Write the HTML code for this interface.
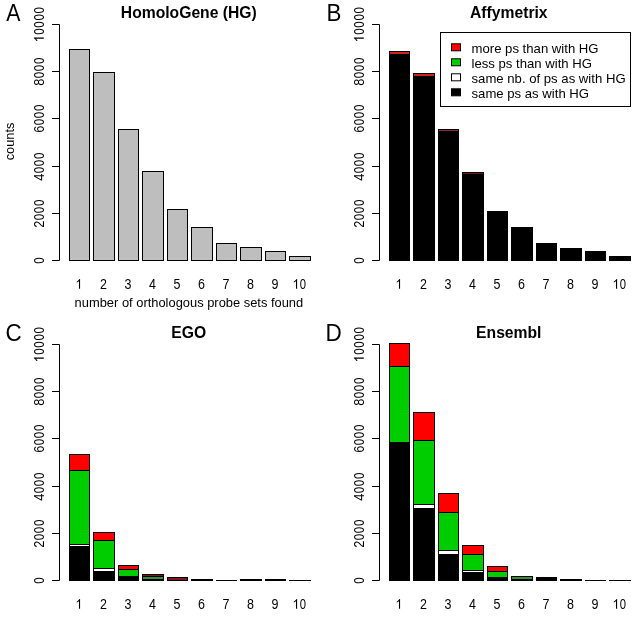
<!DOCTYPE html>
<html><head><meta charset="utf-8"><style>html,body{margin:0;padding:0;background:#fff;}svg{display:block;}</style></head>
<body><svg width="640" height="640" viewBox="0 0 640 640">
<rect x="0" y="0" width="640" height="640" fill="#fff"/>
<line x1="59.5" y1="24.5" x2="59.5" y2="260.5" stroke="#000" stroke-width="1"/>
<line x1="52" y1="24.5" x2="59.5" y2="24.5" stroke="#000" stroke-width="1"/>
<line x1="52" y1="71.5" x2="59.5" y2="71.5" stroke="#000" stroke-width="1"/>
<line x1="52" y1="118.5" x2="59.5" y2="118.5" stroke="#000" stroke-width="1"/>
<line x1="52" y1="166.5" x2="59.5" y2="166.5" stroke="#000" stroke-width="1"/>
<line x1="52" y1="213.5" x2="59.5" y2="213.5" stroke="#000" stroke-width="1"/>
<line x1="52" y1="260.5" x2="59.5" y2="260.5" stroke="#000" stroke-width="1"/>
<rect x="69.5" y="49.5" width="20" height="211" fill="#bebebe" stroke="#000" stroke-width="1"/>
<rect x="93.5" y="72.5" width="21" height="188" fill="#bebebe" stroke="#000" stroke-width="1"/>
<rect x="118.5" y="129.5" width="20" height="131" fill="#bebebe" stroke="#000" stroke-width="1"/>
<rect x="142.5" y="171.5" width="21" height="89" fill="#bebebe" stroke="#000" stroke-width="1"/>
<rect x="167.5" y="209.5" width="20" height="51" fill="#bebebe" stroke="#000" stroke-width="1"/>
<rect x="191.5" y="227.5" width="21" height="33" fill="#bebebe" stroke="#000" stroke-width="1"/>
<rect x="216.5" y="243.5" width="20" height="17" fill="#bebebe" stroke="#000" stroke-width="1"/>
<rect x="240.5" y="247.5" width="21" height="13" fill="#bebebe" stroke="#000" stroke-width="1"/>
<rect x="265.5" y="251.5" width="20" height="9" fill="#bebebe" stroke="#000" stroke-width="1"/>
<rect x="289.5" y="256.5" width="21" height="4" fill="#bebebe" stroke="#000" stroke-width="1"/>
<line x1="379.5" y1="24.5" x2="379.5" y2="260.5" stroke="#000" stroke-width="1"/>
<line x1="372" y1="24.5" x2="379.5" y2="24.5" stroke="#000" stroke-width="1"/>
<line x1="372" y1="71.5" x2="379.5" y2="71.5" stroke="#000" stroke-width="1"/>
<line x1="372" y1="118.5" x2="379.5" y2="118.5" stroke="#000" stroke-width="1"/>
<line x1="372" y1="166.5" x2="379.5" y2="166.5" stroke="#000" stroke-width="1"/>
<line x1="372" y1="213.5" x2="379.5" y2="213.5" stroke="#000" stroke-width="1"/>
<line x1="372" y1="260.5" x2="379.5" y2="260.5" stroke="#000" stroke-width="1"/>
<rect x="389.5" y="54.5" width="20" height="206" fill="#000" stroke="#000" stroke-width="1"/>
<rect x="389.5" y="51.5" width="20" height="3" fill="#d42020" stroke="#000" stroke-width="1"/>
<rect x="413.5" y="76.5" width="21" height="184" fill="#000" stroke="#000" stroke-width="1"/>
<rect x="413.5" y="73.5" width="21" height="3" fill="#d42020" stroke="#000" stroke-width="1"/>
<rect x="438.5" y="131.5" width="20" height="129" fill="#000" stroke="#000" stroke-width="1"/>
<rect x="438.5" y="129.5" width="20" height="2" fill="#902828" stroke="#000" stroke-width="1"/>
<rect x="462.5" y="174.5" width="21" height="86" fill="#000" stroke="#000" stroke-width="1"/>
<rect x="462.5" y="172.5" width="21" height="2" fill="#701818" stroke="#000" stroke-width="1"/>
<rect x="487.5" y="211.5" width="20" height="49" fill="#000" stroke="#000" stroke-width="1"/>
<rect x="511.5" y="227.5" width="21" height="33" fill="#000" stroke="#000" stroke-width="1"/>
<rect x="536.5" y="243.5" width="20" height="17" fill="#000" stroke="#000" stroke-width="1"/>
<rect x="560.5" y="248.5" width="21" height="12" fill="#000" stroke="#000" stroke-width="1"/>
<rect x="585.5" y="251.5" width="20" height="9" fill="#000" stroke="#000" stroke-width="1"/>
<rect x="609.5" y="256.5" width="21" height="4" fill="#000" stroke="#000" stroke-width="1"/>
<line x1="59.5" y1="344.5" x2="59.5" y2="580.5" stroke="#000" stroke-width="1"/>
<line x1="52" y1="344.5" x2="59.5" y2="344.5" stroke="#000" stroke-width="1"/>
<line x1="52" y1="391.5" x2="59.5" y2="391.5" stroke="#000" stroke-width="1"/>
<line x1="52" y1="438.5" x2="59.5" y2="438.5" stroke="#000" stroke-width="1"/>
<line x1="52" y1="486.5" x2="59.5" y2="486.5" stroke="#000" stroke-width="1"/>
<line x1="52" y1="533.5" x2="59.5" y2="533.5" stroke="#000" stroke-width="1"/>
<line x1="52" y1="580.5" x2="59.5" y2="580.5" stroke="#000" stroke-width="1"/>
<rect x="69.5" y="546.5" width="20" height="34" fill="#000" stroke="#000" stroke-width="1"/>
<rect x="69.5" y="544.5" width="20" height="2" fill="#fff" stroke="#000" stroke-width="1"/>
<rect x="69.5" y="470.5" width="20" height="74" fill="#00cd00" stroke="#000" stroke-width="1"/>
<rect x="69.5" y="454.5" width="20" height="16" fill="#ff0000" stroke="#000" stroke-width="1"/>
<rect x="93.5" y="571.5" width="21" height="9" fill="#000" stroke="#000" stroke-width="1"/>
<rect x="93.5" y="568.5" width="21" height="3" fill="#fff" stroke="#000" stroke-width="1"/>
<rect x="93.5" y="540.5" width="21" height="28" fill="#00cd00" stroke="#000" stroke-width="1"/>
<rect x="93.5" y="532.5" width="21" height="8" fill="#ff0000" stroke="#000" stroke-width="1"/>
<rect x="118.5" y="576.5" width="20" height="4" fill="#000" stroke="#000" stroke-width="1"/>
<rect x="118.5" y="569.5" width="20" height="7" fill="#00cd00" stroke="#000" stroke-width="1"/>
<rect x="118.5" y="565.5" width="20" height="4" fill="#ff0000" stroke="#000" stroke-width="1"/>
<rect x="142.5" y="579.5" width="21" height="1" fill="#000" stroke="#000" stroke-width="1"/>
<rect x="142.5" y="576.5" width="21" height="3" fill="#3c8c3c" stroke="#000" stroke-width="1"/>
<rect x="142.5" y="574.5" width="21" height="2" fill="#801818" stroke="#000" stroke-width="1"/>
<rect x="167.5" y="577.5" width="20" height="3" fill="#801818" stroke="#000" stroke-width="1"/>
<rect x="191.5" y="579.5" width="21" height="1" fill="#000" stroke="#000" stroke-width="1"/>
<line x1="216" y1="580.5" x2="237" y2="580.5" stroke="#000" stroke-width="1"/>
<rect x="240.5" y="579.5" width="21" height="1" fill="#000" stroke="#000" stroke-width="1"/>
<rect x="265.5" y="579.5" width="20" height="1" fill="#000" stroke="#000" stroke-width="1"/>
<line x1="289" y1="580.5" x2="311" y2="580.5" stroke="#000" stroke-width="1"/>
<line x1="379.5" y1="344.5" x2="379.5" y2="580.5" stroke="#000" stroke-width="1"/>
<line x1="372" y1="344.5" x2="379.5" y2="344.5" stroke="#000" stroke-width="1"/>
<line x1="372" y1="391.5" x2="379.5" y2="391.5" stroke="#000" stroke-width="1"/>
<line x1="372" y1="438.5" x2="379.5" y2="438.5" stroke="#000" stroke-width="1"/>
<line x1="372" y1="486.5" x2="379.5" y2="486.5" stroke="#000" stroke-width="1"/>
<line x1="372" y1="533.5" x2="379.5" y2="533.5" stroke="#000" stroke-width="1"/>
<line x1="372" y1="580.5" x2="379.5" y2="580.5" stroke="#000" stroke-width="1"/>
<rect x="389.5" y="442.5" width="20" height="138" fill="#000" stroke="#000" stroke-width="1"/>
<rect x="389.5" y="366.5" width="20" height="76" fill="#00cd00" stroke="#000" stroke-width="1"/>
<rect x="389.5" y="343.5" width="20" height="23" fill="#ff0000" stroke="#000" stroke-width="1"/>
<rect x="413.5" y="508.5" width="21" height="72" fill="#000" stroke="#000" stroke-width="1"/>
<rect x="413.5" y="504.5" width="21" height="4" fill="#fff" stroke="#000" stroke-width="1"/>
<rect x="413.5" y="440.5" width="21" height="64" fill="#00cd00" stroke="#000" stroke-width="1"/>
<rect x="413.5" y="412.5" width="21" height="28" fill="#ff0000" stroke="#000" stroke-width="1"/>
<rect x="438.5" y="554.5" width="20" height="26" fill="#000" stroke="#000" stroke-width="1"/>
<rect x="438.5" y="550.5" width="20" height="4" fill="#fff" stroke="#000" stroke-width="1"/>
<rect x="438.5" y="512.5" width="20" height="38" fill="#00cd00" stroke="#000" stroke-width="1"/>
<rect x="438.5" y="493.5" width="20" height="19" fill="#ff0000" stroke="#000" stroke-width="1"/>
<rect x="462.5" y="572.5" width="21" height="8" fill="#000" stroke="#000" stroke-width="1"/>
<rect x="462.5" y="570.5" width="21" height="2" fill="#fff" stroke="#000" stroke-width="1"/>
<rect x="462.5" y="554.5" width="21" height="16" fill="#00cd00" stroke="#000" stroke-width="1"/>
<rect x="462.5" y="545.5" width="21" height="9" fill="#ff0000" stroke="#000" stroke-width="1"/>
<rect x="487.5" y="577.5" width="20" height="3" fill="#000" stroke="#000" stroke-width="1"/>
<rect x="487.5" y="571.5" width="20" height="6" fill="#00cd00" stroke="#000" stroke-width="1"/>
<rect x="487.5" y="566.5" width="20" height="5" fill="#ff0000" stroke="#000" stroke-width="1"/>
<rect x="511.5" y="579.5" width="21" height="1" fill="#000" stroke="#000" stroke-width="1"/>
<rect x="511.5" y="576.5" width="21" height="3" fill="#3c8c3c" stroke="#000" stroke-width="1"/>
<rect x="536.5" y="577.5" width="20" height="3" fill="#000" stroke="#000" stroke-width="1"/>
<rect x="560.5" y="579.5" width="21" height="1" fill="#000" stroke="#000" stroke-width="1"/>
<line x1="585" y1="580.5" x2="606" y2="580.5" stroke="#000" stroke-width="1"/>
<line x1="609" y1="580.5" x2="631" y2="580.5" stroke="#000" stroke-width="1"/>
<rect x="440.5" y="32.5" width="190" height="74" fill="#fff" stroke="#000" stroke-width="1"/>
<rect x="451.5" y="43.8" width="9" height="7" fill="#ff0000" stroke="#000" stroke-width="1"/>
<rect x="451.5" y="58.8" width="9" height="7" fill="#00cd00" stroke="#000" stroke-width="1"/>
<rect x="451.5" y="73.8" width="9" height="7" fill="#fff" stroke="#000" stroke-width="1"/>
<rect x="451.5" y="88.8" width="9" height="7" fill="#000" stroke="#000" stroke-width="1"/>
<defs><filter id="gs" x="0" y="0" width="640" height="640" filterUnits="userSpaceOnUse"><feColorMatrix type="saturate" values="0"/></filter></defs>
<g filter="url(#gs)">
<g transform="translate(43.8,24.5) rotate(-90) scale(1,1.08)"><path d="M763 0L583 0L583 1147Q518 1085 412.5 1023Q307 961 223 930L223 1104Q374 1175 487 1276Q600 1377 647 1472L763 1472Z" transform="translate(-17.79,0) scale(0.00625,-0.00625)" fill="#000"/><text transform="translate(-7.12,0) scale(0.9,1)" x="0" y="0" text-anchor="middle" font-size="12.8" font-family="Liberation Sans, sans-serif" fill="#000">0</text><text transform="translate(0,0) scale(0.9,1)" x="0" y="0" text-anchor="middle" font-size="12.8" font-family="Liberation Sans, sans-serif" fill="#000">0</text><text transform="translate(7.12,0) scale(0.9,1)" x="0" y="0" text-anchor="middle" font-size="12.8" font-family="Liberation Sans, sans-serif" fill="#000">0</text><text transform="translate(14.23,0) scale(0.9,1)" x="0" y="0" text-anchor="middle" font-size="12.8" font-family="Liberation Sans, sans-serif" fill="#000">0</text></g>
<g transform="translate(43.8,71.5) rotate(-90) scale(1,1.08)"><text x="-14.23" y="0" font-size="12.8" font-family="Liberation Sans, sans-serif" fill="#000">8</text><text transform="translate(-3.56,0) scale(0.9,1)" x="0" y="0" text-anchor="middle" font-size="12.8" font-family="Liberation Sans, sans-serif" fill="#000">0</text><text transform="translate(3.56,0) scale(0.9,1)" x="0" y="0" text-anchor="middle" font-size="12.8" font-family="Liberation Sans, sans-serif" fill="#000">0</text><text transform="translate(10.68,0) scale(0.9,1)" x="0" y="0" text-anchor="middle" font-size="12.8" font-family="Liberation Sans, sans-serif" fill="#000">0</text></g>
<g transform="translate(43.8,118.5) rotate(-90) scale(1,1.08)"><text x="-14.23" y="0" font-size="12.8" font-family="Liberation Sans, sans-serif" fill="#000">6</text><text transform="translate(-3.56,0) scale(0.9,1)" x="0" y="0" text-anchor="middle" font-size="12.8" font-family="Liberation Sans, sans-serif" fill="#000">0</text><text transform="translate(3.56,0) scale(0.9,1)" x="0" y="0" text-anchor="middle" font-size="12.8" font-family="Liberation Sans, sans-serif" fill="#000">0</text><text transform="translate(10.68,0) scale(0.9,1)" x="0" y="0" text-anchor="middle" font-size="12.8" font-family="Liberation Sans, sans-serif" fill="#000">0</text></g>
<g transform="translate(43.8,166.5) rotate(-90) scale(1,1.08)"><text x="-14.23" y="0" font-size="12.8" font-family="Liberation Sans, sans-serif" fill="#000">4</text><text transform="translate(-3.56,0) scale(0.9,1)" x="0" y="0" text-anchor="middle" font-size="12.8" font-family="Liberation Sans, sans-serif" fill="#000">0</text><text transform="translate(3.56,0) scale(0.9,1)" x="0" y="0" text-anchor="middle" font-size="12.8" font-family="Liberation Sans, sans-serif" fill="#000">0</text><text transform="translate(10.68,0) scale(0.9,1)" x="0" y="0" text-anchor="middle" font-size="12.8" font-family="Liberation Sans, sans-serif" fill="#000">0</text></g>
<g transform="translate(43.8,213.5) rotate(-90) scale(1,1.08)"><text x="-14.23" y="0" font-size="12.8" font-family="Liberation Sans, sans-serif" fill="#000">2</text><text transform="translate(-3.56,0) scale(0.9,1)" x="0" y="0" text-anchor="middle" font-size="12.8" font-family="Liberation Sans, sans-serif" fill="#000">0</text><text transform="translate(3.56,0) scale(0.9,1)" x="0" y="0" text-anchor="middle" font-size="12.8" font-family="Liberation Sans, sans-serif" fill="#000">0</text><text transform="translate(10.68,0) scale(0.9,1)" x="0" y="0" text-anchor="middle" font-size="12.8" font-family="Liberation Sans, sans-serif" fill="#000">0</text></g>
<g transform="translate(43.8,260.5) rotate(-90) scale(1,1.08)"><text transform="translate(0,0) scale(0.9,1)" x="0" y="0" text-anchor="middle" font-size="12.8" font-family="Liberation Sans, sans-serif" fill="#000">0</text></g>
<g transform="translate(78.9,288.8) scale(1,1.1)"><path d="M763 0L583 0L583 1147Q518 1085 412.5 1023Q307 961 223 930L223 1104Q374 1175 487 1276Q600 1377 647 1472L763 1472Z" transform="translate(-3.48,0) scale(0.00610,-0.00610)" fill="#000"/></g>
<g transform="translate(103.4,288.8) scale(1,1.1)"><text x="-3.48" y="0" font-size="12.5" font-family="Liberation Sans, sans-serif" fill="#000">2</text></g>
<g transform="translate(127.9,288.8) scale(1,1.1)"><text x="-3.48" y="0" font-size="12.5" font-family="Liberation Sans, sans-serif" fill="#000">3</text></g>
<g transform="translate(152.4,288.8) scale(1,1.1)"><text x="-3.48" y="0" font-size="12.5" font-family="Liberation Sans, sans-serif" fill="#000">4</text></g>
<g transform="translate(176.9,288.8) scale(1,1.1)"><text x="-3.48" y="0" font-size="12.5" font-family="Liberation Sans, sans-serif" fill="#000">5</text></g>
<g transform="translate(201.4,288.8) scale(1,1.1)"><text x="-3.48" y="0" font-size="12.5" font-family="Liberation Sans, sans-serif" fill="#000">6</text></g>
<g transform="translate(225.9,288.8) scale(1,1.1)"><text x="-3.48" y="0" font-size="12.5" font-family="Liberation Sans, sans-serif" fill="#000">7</text></g>
<g transform="translate(250.4,288.8) scale(1,1.1)"><text x="-3.48" y="0" font-size="12.5" font-family="Liberation Sans, sans-serif" fill="#000">8</text></g>
<g transform="translate(274.9,288.8) scale(1,1.1)"><text x="-3.48" y="0" font-size="12.5" font-family="Liberation Sans, sans-serif" fill="#000">9</text></g>
<g transform="translate(299.4,288.8) scale(1,1.1)"><path d="M763 0L583 0L583 1147Q518 1085 412.5 1023Q307 961 223 930L223 1104Q374 1175 487 1276Q600 1377 647 1472L763 1472Z" transform="translate(-6.95,0) scale(0.00610,-0.00610)" fill="#000"/><text transform="translate(3.48,0) scale(0.9,1)" x="0" y="0" text-anchor="middle" font-size="12.5" font-family="Liberation Sans, sans-serif" fill="#000">0</text></g>
<text transform="translate(6.17,21) scale(0.925,1)" x="0" y="0" font-size="23" font-family="Liberation Sans, sans-serif" fill="#000">A</text>
<text x="188.8" y="18" text-anchor="middle" font-size="15.7" font-weight="bold" font-family="Liberation Sans, sans-serif" fill="#000">HomoloGene (HG)</text>
<text x="14" y="141.5" transform="rotate(-90 14 141.5)" text-anchor="middle" font-size="12.8" font-family="Liberation Sans, sans-serif" fill="#000">counts</text>
<text x="188.9" y="306.6" text-anchor="middle" font-size="12.9" font-family="Liberation Sans, sans-serif" fill="#000">number of orthologous probe sets found</text>
<g transform="translate(363.8,24.5) rotate(-90) scale(1,1.08)"><path d="M763 0L583 0L583 1147Q518 1085 412.5 1023Q307 961 223 930L223 1104Q374 1175 487 1276Q600 1377 647 1472L763 1472Z" transform="translate(-17.79,0) scale(0.00625,-0.00625)" fill="#000"/><text transform="translate(-7.12,0) scale(0.9,1)" x="0" y="0" text-anchor="middle" font-size="12.8" font-family="Liberation Sans, sans-serif" fill="#000">0</text><text transform="translate(0,0) scale(0.9,1)" x="0" y="0" text-anchor="middle" font-size="12.8" font-family="Liberation Sans, sans-serif" fill="#000">0</text><text transform="translate(7.12,0) scale(0.9,1)" x="0" y="0" text-anchor="middle" font-size="12.8" font-family="Liberation Sans, sans-serif" fill="#000">0</text><text transform="translate(14.23,0) scale(0.9,1)" x="0" y="0" text-anchor="middle" font-size="12.8" font-family="Liberation Sans, sans-serif" fill="#000">0</text></g>
<g transform="translate(363.8,71.5) rotate(-90) scale(1,1.08)"><text x="-14.23" y="0" font-size="12.8" font-family="Liberation Sans, sans-serif" fill="#000">8</text><text transform="translate(-3.56,0) scale(0.9,1)" x="0" y="0" text-anchor="middle" font-size="12.8" font-family="Liberation Sans, sans-serif" fill="#000">0</text><text transform="translate(3.56,0) scale(0.9,1)" x="0" y="0" text-anchor="middle" font-size="12.8" font-family="Liberation Sans, sans-serif" fill="#000">0</text><text transform="translate(10.68,0) scale(0.9,1)" x="0" y="0" text-anchor="middle" font-size="12.8" font-family="Liberation Sans, sans-serif" fill="#000">0</text></g>
<g transform="translate(363.8,118.5) rotate(-90) scale(1,1.08)"><text x="-14.23" y="0" font-size="12.8" font-family="Liberation Sans, sans-serif" fill="#000">6</text><text transform="translate(-3.56,0) scale(0.9,1)" x="0" y="0" text-anchor="middle" font-size="12.8" font-family="Liberation Sans, sans-serif" fill="#000">0</text><text transform="translate(3.56,0) scale(0.9,1)" x="0" y="0" text-anchor="middle" font-size="12.8" font-family="Liberation Sans, sans-serif" fill="#000">0</text><text transform="translate(10.68,0) scale(0.9,1)" x="0" y="0" text-anchor="middle" font-size="12.8" font-family="Liberation Sans, sans-serif" fill="#000">0</text></g>
<g transform="translate(363.8,166.5) rotate(-90) scale(1,1.08)"><text x="-14.23" y="0" font-size="12.8" font-family="Liberation Sans, sans-serif" fill="#000">4</text><text transform="translate(-3.56,0) scale(0.9,1)" x="0" y="0" text-anchor="middle" font-size="12.8" font-family="Liberation Sans, sans-serif" fill="#000">0</text><text transform="translate(3.56,0) scale(0.9,1)" x="0" y="0" text-anchor="middle" font-size="12.8" font-family="Liberation Sans, sans-serif" fill="#000">0</text><text transform="translate(10.68,0) scale(0.9,1)" x="0" y="0" text-anchor="middle" font-size="12.8" font-family="Liberation Sans, sans-serif" fill="#000">0</text></g>
<g transform="translate(363.8,213.5) rotate(-90) scale(1,1.08)"><text x="-14.23" y="0" font-size="12.8" font-family="Liberation Sans, sans-serif" fill="#000">2</text><text transform="translate(-3.56,0) scale(0.9,1)" x="0" y="0" text-anchor="middle" font-size="12.8" font-family="Liberation Sans, sans-serif" fill="#000">0</text><text transform="translate(3.56,0) scale(0.9,1)" x="0" y="0" text-anchor="middle" font-size="12.8" font-family="Liberation Sans, sans-serif" fill="#000">0</text><text transform="translate(10.68,0) scale(0.9,1)" x="0" y="0" text-anchor="middle" font-size="12.8" font-family="Liberation Sans, sans-serif" fill="#000">0</text></g>
<g transform="translate(363.8,260.5) rotate(-90) scale(1,1.08)"><text transform="translate(0,0) scale(0.9,1)" x="0" y="0" text-anchor="middle" font-size="12.8" font-family="Liberation Sans, sans-serif" fill="#000">0</text></g>
<g transform="translate(398.9,288.8) scale(1,1.1)"><path d="M763 0L583 0L583 1147Q518 1085 412.5 1023Q307 961 223 930L223 1104Q374 1175 487 1276Q600 1377 647 1472L763 1472Z" transform="translate(-3.48,0) scale(0.00610,-0.00610)" fill="#000"/></g>
<g transform="translate(423.4,288.8) scale(1,1.1)"><text x="-3.48" y="0" font-size="12.5" font-family="Liberation Sans, sans-serif" fill="#000">2</text></g>
<g transform="translate(447.9,288.8) scale(1,1.1)"><text x="-3.48" y="0" font-size="12.5" font-family="Liberation Sans, sans-serif" fill="#000">3</text></g>
<g transform="translate(472.4,288.8) scale(1,1.1)"><text x="-3.48" y="0" font-size="12.5" font-family="Liberation Sans, sans-serif" fill="#000">4</text></g>
<g transform="translate(496.9,288.8) scale(1,1.1)"><text x="-3.48" y="0" font-size="12.5" font-family="Liberation Sans, sans-serif" fill="#000">5</text></g>
<g transform="translate(521.4,288.8) scale(1,1.1)"><text x="-3.48" y="0" font-size="12.5" font-family="Liberation Sans, sans-serif" fill="#000">6</text></g>
<g transform="translate(545.9,288.8) scale(1,1.1)"><text x="-3.48" y="0" font-size="12.5" font-family="Liberation Sans, sans-serif" fill="#000">7</text></g>
<g transform="translate(570.4,288.8) scale(1,1.1)"><text x="-3.48" y="0" font-size="12.5" font-family="Liberation Sans, sans-serif" fill="#000">8</text></g>
<g transform="translate(594.9,288.8) scale(1,1.1)"><text x="-3.48" y="0" font-size="12.5" font-family="Liberation Sans, sans-serif" fill="#000">9</text></g>
<g transform="translate(619.4,288.8) scale(1,1.1)"><path d="M763 0L583 0L583 1147Q518 1085 412.5 1023Q307 961 223 930L223 1104Q374 1175 487 1276Q600 1377 647 1472L763 1472Z" transform="translate(-6.95,0) scale(0.00610,-0.00610)" fill="#000"/><text transform="translate(3.48,0) scale(0.9,1)" x="0" y="0" text-anchor="middle" font-size="12.5" font-family="Liberation Sans, sans-serif" fill="#000">0</text></g>
<text transform="translate(326.6,21) scale(0.972,1)" x="0" y="0" font-size="23" font-family="Liberation Sans, sans-serif" fill="#000">B</text>
<text x="508.8" y="18" text-anchor="middle" font-size="15.7" font-weight="bold" font-family="Liberation Sans, sans-serif" fill="#000">Affymetrix</text>
<g transform="translate(43.8,344.5) rotate(-90) scale(1,1.08)"><path d="M763 0L583 0L583 1147Q518 1085 412.5 1023Q307 961 223 930L223 1104Q374 1175 487 1276Q600 1377 647 1472L763 1472Z" transform="translate(-17.79,0) scale(0.00625,-0.00625)" fill="#000"/><text transform="translate(-7.12,0) scale(0.9,1)" x="0" y="0" text-anchor="middle" font-size="12.8" font-family="Liberation Sans, sans-serif" fill="#000">0</text><text transform="translate(0,0) scale(0.9,1)" x="0" y="0" text-anchor="middle" font-size="12.8" font-family="Liberation Sans, sans-serif" fill="#000">0</text><text transform="translate(7.12,0) scale(0.9,1)" x="0" y="0" text-anchor="middle" font-size="12.8" font-family="Liberation Sans, sans-serif" fill="#000">0</text><text transform="translate(14.23,0) scale(0.9,1)" x="0" y="0" text-anchor="middle" font-size="12.8" font-family="Liberation Sans, sans-serif" fill="#000">0</text></g>
<g transform="translate(43.8,391.5) rotate(-90) scale(1,1.08)"><text x="-14.23" y="0" font-size="12.8" font-family="Liberation Sans, sans-serif" fill="#000">8</text><text transform="translate(-3.56,0) scale(0.9,1)" x="0" y="0" text-anchor="middle" font-size="12.8" font-family="Liberation Sans, sans-serif" fill="#000">0</text><text transform="translate(3.56,0) scale(0.9,1)" x="0" y="0" text-anchor="middle" font-size="12.8" font-family="Liberation Sans, sans-serif" fill="#000">0</text><text transform="translate(10.68,0) scale(0.9,1)" x="0" y="0" text-anchor="middle" font-size="12.8" font-family="Liberation Sans, sans-serif" fill="#000">0</text></g>
<g transform="translate(43.8,438.5) rotate(-90) scale(1,1.08)"><text x="-14.23" y="0" font-size="12.8" font-family="Liberation Sans, sans-serif" fill="#000">6</text><text transform="translate(-3.56,0) scale(0.9,1)" x="0" y="0" text-anchor="middle" font-size="12.8" font-family="Liberation Sans, sans-serif" fill="#000">0</text><text transform="translate(3.56,0) scale(0.9,1)" x="0" y="0" text-anchor="middle" font-size="12.8" font-family="Liberation Sans, sans-serif" fill="#000">0</text><text transform="translate(10.68,0) scale(0.9,1)" x="0" y="0" text-anchor="middle" font-size="12.8" font-family="Liberation Sans, sans-serif" fill="#000">0</text></g>
<g transform="translate(43.8,486.5) rotate(-90) scale(1,1.08)"><text x="-14.23" y="0" font-size="12.8" font-family="Liberation Sans, sans-serif" fill="#000">4</text><text transform="translate(-3.56,0) scale(0.9,1)" x="0" y="0" text-anchor="middle" font-size="12.8" font-family="Liberation Sans, sans-serif" fill="#000">0</text><text transform="translate(3.56,0) scale(0.9,1)" x="0" y="0" text-anchor="middle" font-size="12.8" font-family="Liberation Sans, sans-serif" fill="#000">0</text><text transform="translate(10.68,0) scale(0.9,1)" x="0" y="0" text-anchor="middle" font-size="12.8" font-family="Liberation Sans, sans-serif" fill="#000">0</text></g>
<g transform="translate(43.8,533.5) rotate(-90) scale(1,1.08)"><text x="-14.23" y="0" font-size="12.8" font-family="Liberation Sans, sans-serif" fill="#000">2</text><text transform="translate(-3.56,0) scale(0.9,1)" x="0" y="0" text-anchor="middle" font-size="12.8" font-family="Liberation Sans, sans-serif" fill="#000">0</text><text transform="translate(3.56,0) scale(0.9,1)" x="0" y="0" text-anchor="middle" font-size="12.8" font-family="Liberation Sans, sans-serif" fill="#000">0</text><text transform="translate(10.68,0) scale(0.9,1)" x="0" y="0" text-anchor="middle" font-size="12.8" font-family="Liberation Sans, sans-serif" fill="#000">0</text></g>
<g transform="translate(43.8,580.5) rotate(-90) scale(1,1.08)"><text transform="translate(0,0) scale(0.9,1)" x="0" y="0" text-anchor="middle" font-size="12.8" font-family="Liberation Sans, sans-serif" fill="#000">0</text></g>
<g transform="translate(78.9,608.8) scale(1,1.1)"><path d="M763 0L583 0L583 1147Q518 1085 412.5 1023Q307 961 223 930L223 1104Q374 1175 487 1276Q600 1377 647 1472L763 1472Z" transform="translate(-3.48,0) scale(0.00610,-0.00610)" fill="#000"/></g>
<g transform="translate(103.4,608.8) scale(1,1.1)"><text x="-3.48" y="0" font-size="12.5" font-family="Liberation Sans, sans-serif" fill="#000">2</text></g>
<g transform="translate(127.9,608.8) scale(1,1.1)"><text x="-3.48" y="0" font-size="12.5" font-family="Liberation Sans, sans-serif" fill="#000">3</text></g>
<g transform="translate(152.4,608.8) scale(1,1.1)"><text x="-3.48" y="0" font-size="12.5" font-family="Liberation Sans, sans-serif" fill="#000">4</text></g>
<g transform="translate(176.9,608.8) scale(1,1.1)"><text x="-3.48" y="0" font-size="12.5" font-family="Liberation Sans, sans-serif" fill="#000">5</text></g>
<g transform="translate(201.4,608.8) scale(1,1.1)"><text x="-3.48" y="0" font-size="12.5" font-family="Liberation Sans, sans-serif" fill="#000">6</text></g>
<g transform="translate(225.9,608.8) scale(1,1.1)"><text x="-3.48" y="0" font-size="12.5" font-family="Liberation Sans, sans-serif" fill="#000">7</text></g>
<g transform="translate(250.4,608.8) scale(1,1.1)"><text x="-3.48" y="0" font-size="12.5" font-family="Liberation Sans, sans-serif" fill="#000">8</text></g>
<g transform="translate(274.9,608.8) scale(1,1.1)"><text x="-3.48" y="0" font-size="12.5" font-family="Liberation Sans, sans-serif" fill="#000">9</text></g>
<g transform="translate(299.4,608.8) scale(1,1.1)"><path d="M763 0L583 0L583 1147Q518 1085 412.5 1023Q307 961 223 930L223 1104Q374 1175 487 1276Q600 1377 647 1472L763 1472Z" transform="translate(-6.95,0) scale(0.00610,-0.00610)" fill="#000"/><text transform="translate(3.48,0) scale(0.9,1)" x="0" y="0" text-anchor="middle" font-size="12.5" font-family="Liberation Sans, sans-serif" fill="#000">0</text></g>
<text transform="translate(5.5,341) scale(0.974,1)" x="0" y="0" font-size="23" font-family="Liberation Sans, sans-serif" fill="#000">C</text>
<text x="188.8" y="338" text-anchor="middle" font-size="15.7" font-weight="bold" font-family="Liberation Sans, sans-serif" fill="#000">EGO</text>
<g transform="translate(363.8,344.5) rotate(-90) scale(1,1.08)"><path d="M763 0L583 0L583 1147Q518 1085 412.5 1023Q307 961 223 930L223 1104Q374 1175 487 1276Q600 1377 647 1472L763 1472Z" transform="translate(-17.79,0) scale(0.00625,-0.00625)" fill="#000"/><text transform="translate(-7.12,0) scale(0.9,1)" x="0" y="0" text-anchor="middle" font-size="12.8" font-family="Liberation Sans, sans-serif" fill="#000">0</text><text transform="translate(0,0) scale(0.9,1)" x="0" y="0" text-anchor="middle" font-size="12.8" font-family="Liberation Sans, sans-serif" fill="#000">0</text><text transform="translate(7.12,0) scale(0.9,1)" x="0" y="0" text-anchor="middle" font-size="12.8" font-family="Liberation Sans, sans-serif" fill="#000">0</text><text transform="translate(14.23,0) scale(0.9,1)" x="0" y="0" text-anchor="middle" font-size="12.8" font-family="Liberation Sans, sans-serif" fill="#000">0</text></g>
<g transform="translate(363.8,391.5) rotate(-90) scale(1,1.08)"><text x="-14.23" y="0" font-size="12.8" font-family="Liberation Sans, sans-serif" fill="#000">8</text><text transform="translate(-3.56,0) scale(0.9,1)" x="0" y="0" text-anchor="middle" font-size="12.8" font-family="Liberation Sans, sans-serif" fill="#000">0</text><text transform="translate(3.56,0) scale(0.9,1)" x="0" y="0" text-anchor="middle" font-size="12.8" font-family="Liberation Sans, sans-serif" fill="#000">0</text><text transform="translate(10.68,0) scale(0.9,1)" x="0" y="0" text-anchor="middle" font-size="12.8" font-family="Liberation Sans, sans-serif" fill="#000">0</text></g>
<g transform="translate(363.8,438.5) rotate(-90) scale(1,1.08)"><text x="-14.23" y="0" font-size="12.8" font-family="Liberation Sans, sans-serif" fill="#000">6</text><text transform="translate(-3.56,0) scale(0.9,1)" x="0" y="0" text-anchor="middle" font-size="12.8" font-family="Liberation Sans, sans-serif" fill="#000">0</text><text transform="translate(3.56,0) scale(0.9,1)" x="0" y="0" text-anchor="middle" font-size="12.8" font-family="Liberation Sans, sans-serif" fill="#000">0</text><text transform="translate(10.68,0) scale(0.9,1)" x="0" y="0" text-anchor="middle" font-size="12.8" font-family="Liberation Sans, sans-serif" fill="#000">0</text></g>
<g transform="translate(363.8,486.5) rotate(-90) scale(1,1.08)"><text x="-14.23" y="0" font-size="12.8" font-family="Liberation Sans, sans-serif" fill="#000">4</text><text transform="translate(-3.56,0) scale(0.9,1)" x="0" y="0" text-anchor="middle" font-size="12.8" font-family="Liberation Sans, sans-serif" fill="#000">0</text><text transform="translate(3.56,0) scale(0.9,1)" x="0" y="0" text-anchor="middle" font-size="12.8" font-family="Liberation Sans, sans-serif" fill="#000">0</text><text transform="translate(10.68,0) scale(0.9,1)" x="0" y="0" text-anchor="middle" font-size="12.8" font-family="Liberation Sans, sans-serif" fill="#000">0</text></g>
<g transform="translate(363.8,533.5) rotate(-90) scale(1,1.08)"><text x="-14.23" y="0" font-size="12.8" font-family="Liberation Sans, sans-serif" fill="#000">2</text><text transform="translate(-3.56,0) scale(0.9,1)" x="0" y="0" text-anchor="middle" font-size="12.8" font-family="Liberation Sans, sans-serif" fill="#000">0</text><text transform="translate(3.56,0) scale(0.9,1)" x="0" y="0" text-anchor="middle" font-size="12.8" font-family="Liberation Sans, sans-serif" fill="#000">0</text><text transform="translate(10.68,0) scale(0.9,1)" x="0" y="0" text-anchor="middle" font-size="12.8" font-family="Liberation Sans, sans-serif" fill="#000">0</text></g>
<g transform="translate(363.8,580.5) rotate(-90) scale(1,1.08)"><text transform="translate(0,0) scale(0.9,1)" x="0" y="0" text-anchor="middle" font-size="12.8" font-family="Liberation Sans, sans-serif" fill="#000">0</text></g>
<g transform="translate(398.9,608.8) scale(1,1.1)"><path d="M763 0L583 0L583 1147Q518 1085 412.5 1023Q307 961 223 930L223 1104Q374 1175 487 1276Q600 1377 647 1472L763 1472Z" transform="translate(-3.48,0) scale(0.00610,-0.00610)" fill="#000"/></g>
<g transform="translate(423.4,608.8) scale(1,1.1)"><text x="-3.48" y="0" font-size="12.5" font-family="Liberation Sans, sans-serif" fill="#000">2</text></g>
<g transform="translate(447.9,608.8) scale(1,1.1)"><text x="-3.48" y="0" font-size="12.5" font-family="Liberation Sans, sans-serif" fill="#000">3</text></g>
<g transform="translate(472.4,608.8) scale(1,1.1)"><text x="-3.48" y="0" font-size="12.5" font-family="Liberation Sans, sans-serif" fill="#000">4</text></g>
<g transform="translate(496.9,608.8) scale(1,1.1)"><text x="-3.48" y="0" font-size="12.5" font-family="Liberation Sans, sans-serif" fill="#000">5</text></g>
<g transform="translate(521.4,608.8) scale(1,1.1)"><text x="-3.48" y="0" font-size="12.5" font-family="Liberation Sans, sans-serif" fill="#000">6</text></g>
<g transform="translate(545.9,608.8) scale(1,1.1)"><text x="-3.48" y="0" font-size="12.5" font-family="Liberation Sans, sans-serif" fill="#000">7</text></g>
<g transform="translate(570.4,608.8) scale(1,1.1)"><text x="-3.48" y="0" font-size="12.5" font-family="Liberation Sans, sans-serif" fill="#000">8</text></g>
<g transform="translate(594.9,608.8) scale(1,1.1)"><text x="-3.48" y="0" font-size="12.5" font-family="Liberation Sans, sans-serif" fill="#000">9</text></g>
<g transform="translate(619.4,608.8) scale(1,1.1)"><path d="M763 0L583 0L583 1147Q518 1085 412.5 1023Q307 961 223 930L223 1104Q374 1175 487 1276Q600 1377 647 1472L763 1472Z" transform="translate(-6.95,0) scale(0.00610,-0.00610)" fill="#000"/><text transform="translate(3.48,0) scale(0.9,1)" x="0" y="0" text-anchor="middle" font-size="12.5" font-family="Liberation Sans, sans-serif" fill="#000">0</text></g>
<text transform="translate(325.6,341) scale(0.979,1)" x="0" y="0" font-size="23" font-family="Liberation Sans, sans-serif" fill="#000">D</text>
<text x="508.8" y="338" text-anchor="middle" font-size="15.7" font-weight="bold" font-family="Liberation Sans, sans-serif" fill="#000">Ensembl</text>
<text x="471.5" y="52.8" font-size="13.15" font-family="Liberation Sans, sans-serif" fill="#000">more ps than with HG</text>
<text x="471.5" y="67.8" font-size="13.15" font-family="Liberation Sans, sans-serif" fill="#000">less ps than with HG</text>
<text x="471.5" y="82.8" font-size="13.15" font-family="Liberation Sans, sans-serif" fill="#000">same nb. of ps as with HG</text>
<text x="471.5" y="97.8" font-size="13.15" font-family="Liberation Sans, sans-serif" fill="#000">same ps as with HG</text>
</g>
</svg></body></html>
